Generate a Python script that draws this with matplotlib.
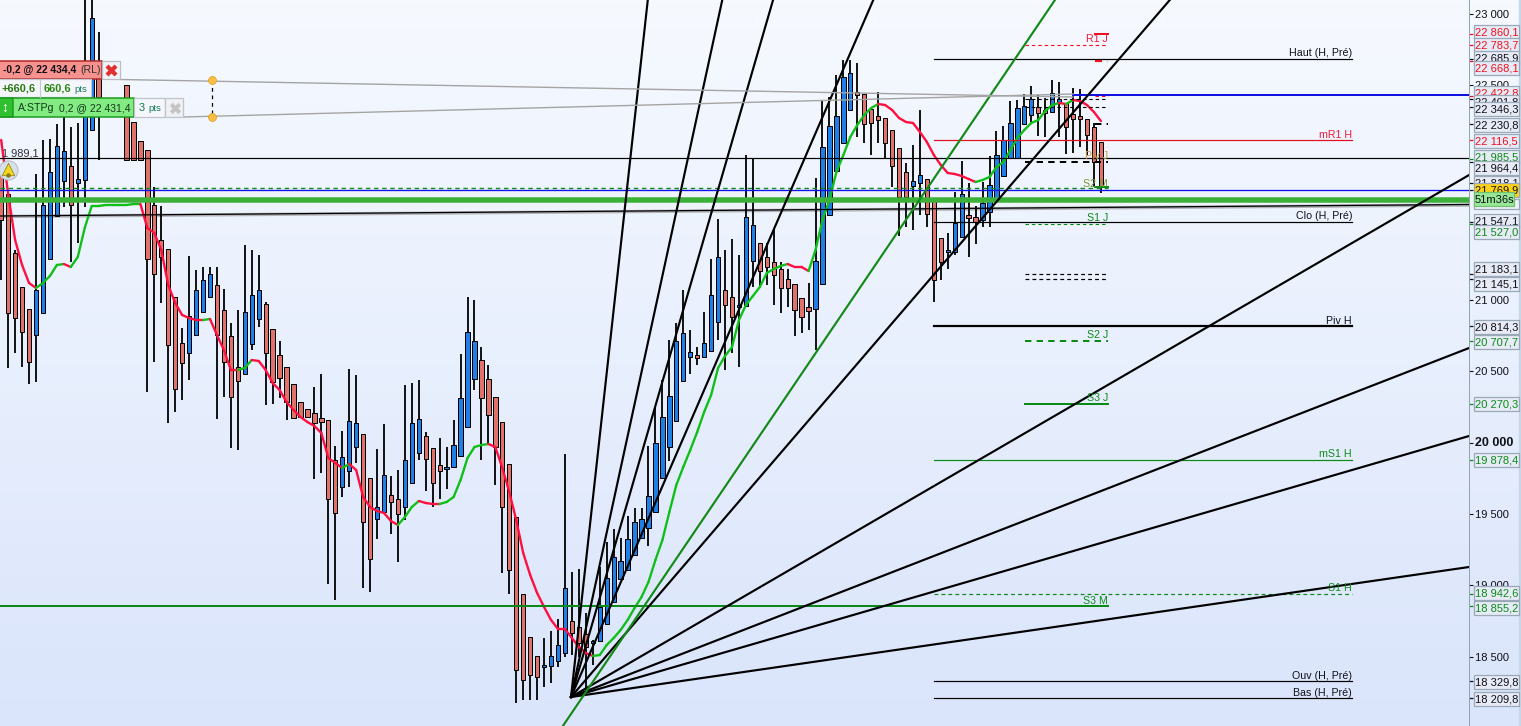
import numpy as np
import matplotlib
matplotlib.use("Agg")
import matplotlib.pyplot as plt
from matplotlib.patches import Rectangle
from matplotlib.collections import LineCollection

plt.rcParams['font.family'] = ['Liberation Sans', 'DejaVu Sans']
n = float('nan')

opens = [21929,21740,21327,21089,20935,20753,20907,21285,21586,21831,21936,21817,21838,22188,22664,n,n,n,22503,22244,22111,22048,21663,21418,21355,21019,20697,20627,20753,20914,21019,21103,20928,20746,20529,20480,20690,20865,20970,20795,20613,20529,20410,20284,20235,20207,20172,20158,19878,19689,19801,19969,20060,19752,19465,19514,19633,19605,19549,19717,19927,20046,19962,19843,19815,19829,19906,20109,20445,20578,20445,20319,20144,19850,19479,18940,18639,18506,18429,18436,18471,18527,18751,18709,18660,18597,18611,18730,18884,19045,19108,19213,19332,19402,19514,19752,19969,20151,20431,20599,20613,20599,20641,20844,21068,21019,20949,20956,21271,21397,21299,21264,21215,21145,21110,21012,20949,20935,21110,21593,21901,22097,22328,22454,22440,22335,22286,22272,22188,22062,21894,21796,21817,21845,21712,21432,21334,21334,21439,21593,21579,21558,21614,21712,21866,21992,21992,22230,22293,22349,22328,22314,22377,22377,22300,22286,22265,22209,22104]
highs = [21929,21740,21348,21089,20935,21880,22118,22125,22230,22279,22209,22237,23100,23100,22874,n,n,n,22503,22244,22111,22048,21789,21656,21355,21019,20802,21306,21208,21229,21229,21229,21075,20837,20928,21383,21348,21313,20984,20795,20711,20529,20410,20284,20235,20389,20480,20158,19976,20081,20515,20473,20060,19752,19955,20130,19766,19808,20403,20417,20438,20074,19962,20032,19969,20158,20620,21019,20998,20669,20543,20319,20144,19850,19479,18940,18639,18506,18632,18681,18765,19920,19094,19115,18807,18618,19129,19304,19395,19332,19486,19542,19542,19976,20242,20438,20718,20837,21068,20788,20669,20914,21285,21565,21348,21425,21313,22013,21992,21397,21397,21495,21264,21215,21110,21012,21117,21852,22398,22419,22573,22678,22678,22657,22440,22335,22454,22272,22188,22062,21957,22083,22328,21845,21712,21432,21467,21754,21971,21817,21656,21824,22006,22181,22216,22391,22398,22440,22496,22433,22412,22538,22524,22377,22482,22475,22265,22237,22104]
lows = [21138,20522,20627,20529,20410,20424,20907,21285,21586,21649,21264,21397,21649,22188,21978,n,n,n,21978,21978,21978,20354,20564,20977,20137,20214,20298,20438,20753,20914,21019,20165,20319,19962,19948,20480,20648,20809,20263,20270,20312,20158,20165,20179,20179,19745,19787,19010,18898,19619,19689,19857,18982,18954,19325,19514,19360,19164,19458,19717,19878,19661,19549,19605,19675,19829,19906,20109,20368,19878,19997,19703,19087,18940,18177,18198,18198,18198,18289,18317,18429,18499,18513,18499,18233,18443,18611,18730,18884,19045,19108,19213,19332,19276,19514,19752,19871,20151,20431,20480,20543,20599,20641,20718,20508,20627,20529,20956,21089,21089,21103,20963,20907,20949,20746,20767,20788,20648,21110,21593,21901,22097,22328,22139,22097,22013,22097,21985,21789,21446,21509,21488,21593,21509,20984,21138,21215,21313,21439,21299,21390,21509,21509,21712,21866,21992,21992,22230,22230,22146,22139,22314,22139,22020,22027,22069,22013,21789,21747]
closes = [21558,20907,20872,20774,20564,21068,21663,21894,22076,22041,21663,21845,22293,22972,22419,n,n,n,21978,21978,21978,21285,21180,21299,20683,20375,20557,20886,21068,21138,21180,20753,20564,20319,20431,20914,21033,21068,20627,20424,20452,20284,20172,20179,20179,20137,20144,19605,19507,19899,20151,20137,19444,19185,19549,19773,19584,19500,19878,20137,20165,19885,19717,19801,19829,19983,20312,20774,20711,20312,20193,19969,19549,19108,18408,18338,18373,18359,18443,18506,18583,18982,18667,18597,18569,18611,18849,19052,19199,19171,19325,19444,19465,19626,19997,20179,20326,20711,20767,20634,20592,20697,21033,21299,20963,20879,20963,21579,21523,21201,21229,21173,21082,21082,20928,20879,20921,21271,22069,22216,22286,22559,22587,22433,22230,22237,22258,22097,21936,21719,21719,21831,21873,21600,21138,21264,21348,21537,21740,21572,21544,21677,21803,22013,22118,22237,22342,22356,22405,22307,22307,22447,22405,22209,22265,22265,22153,21964,21789]
indicator = [22118,21740,21418,21243,21117,21082,21117,21166,21243,21250,21229,21299,21502,21656,21656,21663,21663,21663,21663,21670,21670,21502,21467,21348,21103,20977,20893,20872,20858,20858,20865,20753,20648,20508,20508,20522,20578,20571,20508,20417,20368,20284,20228,20179,20144,20116,20067,19892,19857,19822,19850,19808,19619,19549,19521,19507,19451,19423,19479,19549,19591,19577,19570,19570,19584,19619,19738,19892,19969,19983,19990,19969,19822,19654,19458,19227,19073,18947,18849,18758,18695,18695,18632,18569,18527,18506,18513,18583,18632,18688,18758,18842,18919,19024,19178,19318,19514,19703,19829,19948,20074,20214,20333,20522,20606,20669,20858,20963,21026,21089,21187,21215,21236,21250,21229,21229,21201,21348,21558,21698,21894,22013,22139,22223,22293,22342,22370,22363,22328,22272,22244,22237,22174,22104,22013,21943,21887,21880,21866,21845,21824,21838,21859,21929,21964,22048,22132,22188,22237,22258,22321,22363,22377,22370,22398,22391,22363,22314,22251]

fan_anchor_index = 81.87
fan_anchor_price = 18219
fan_end_index = [92.9, 103.6, 110.9, 125.3, 167.9, 210.9, 210.9, 210.9, 210.9]
fan_end_price = [23098, 23098, 23098, 23098, 23098, 21873, 20662, 20046, 19129]
green_fan_index = [80.7, 151.4]
green_fan_price = [18016, 23098]

ytick_values = [23000, 22500, 21000, 20500, 20000, 19500, 19000, 18500]
ytick_labels = ['23 000', '22 500', '21 000', '20 500', '20 000', '19 500', '19 000', '18 500']

box_values = [22860.1, 22783.7, 22685.9, 22668.1, 22422.8, 22401.8, 22346.3, 22230.8, 22116.5, 21985.5, 21964.4, 21818.1, 21769.9, 21547.1, 21527.0, 21183.1, 21145.1, 20814.3, 20707.7, 20270.3, 19878.4, 18942.6, 18855.2, 18329.8, 18209.8]
box_labels = ['22 860,1', '22 783,7', '22 685,9', '22 668,1', '22 422,8', '22 401,8', '22 346,3', '22 230,8', '22 116,5', '21 985,5', '21 964,4', '21 818,1', '21 769,9', '21 547,1', '21 527,0', '21 183,1', '21 145,1', '20 814,3', '20 707,7', '20 270,3', '19 878,4', '18 942,6', '18 855,2', '18 329,8', '18 209,8']
box_centres = [32, 45, 58, 68, 93, 102, 109, 124.5, 141, 157, 168, 183, 190, 221, 232, 269, 284, 327, 341.5, 404, 459.7, 593, 608, 682, 698.5]
R, K, G = '#f01020', '#101018', '#0c8a18'
box_colors = [R, R, K, R, R, K, K, K, R, G, K, K, K, K, G, K, K, K, G, G, G, G, G, K, K]

W, H = 1521, 726
AX_R = 1469
X0, DX = 1.2, 6.96
def to_index(px):
    return (px - X0) / DX
def to_price(py):
    return 23098 - 7 * py

fig = plt.figure(figsize=(W / 100, H / 100), dpi=100)

# background gradient
bg = fig.add_axes([0, 0, 1, 1], zorder=0)
bg.set_axis_off()
grad = np.linspace(0, 1, 256)[:, None, None]
top = np.array([0.965, 0.978, 1.0])
bot = np.array([0.855, 0.897, 0.985])
bg.imshow(top + (bot - top) * grad, aspect='auto', extent=(0, 1, 0, 1), interpolation='bilinear')

ax = fig.add_axes([0, 0, AX_R / W, 1], zorder=1)
ax.patch.set_alpha(0)
ax.set_xlim(to_index(0), to_index(AX_R))
ax.set_ylim(to_price(H), to_price(0))
ax.set_axis_off()

idx = np.arange(len(opens))
o, h, l, c = map(np.array, (opens, highs, lows, closes))
valid = ~np.isnan(o)

# long levels beneath the candles
ax.plot(ax.get_xlim(), [to_price(216.5), to_price(205)], color='#808080', lw=2.4, alpha=0.55, zorder=1)

ax.vlines(idx[valid], l[valid], h[valid], color='black', lw=1.3, zorder=2)
up = valid & (c >= o)
dn = valid & (c < o)
ax.bar(idx[up], (c - o)[up], bottom=o[up], width=0.62, color='#1f7fe6', edgecolor='black', lw=0.72, zorder=3)
ax.bar(idx[dn], (c - o)[dn], bottom=o[dn], width=0.62, color='#e0716b', edgecolor='black', lw=0.72, zorder=3)

# indicator, coloured by direction
ind = np.array(indicator)
segs, cols = [], []
last = '#ff1040'
for i in range(len(ind) - 1):
    if ind[i + 1] > ind[i]:
        last = '#10c018'
    elif ind[i + 1] < ind[i]:
        last = '#ff1040'
    segs.append([(idx[i], ind[i]), (idx[i + 1], ind[i + 1])])
    cols.append(last)
ax.add_collection(LineCollection(segs, colors=cols, linewidths=1.7, zorder=4, capstyle='round'))

# levels: (price, x from, x to, colour, width px, dash)
def level(price, x0, x1, color, lw, dashed=False, z=5):
    ax.plot([to_index(x0), to_index(x1)], [price, price], color=color, lw=lw * 0.72,
            ls=(0, (3.2, 2.6)) if dashed else '-', zorder=z)

level(21989.1, 0, AX_R, 'black', 1.2)
level(21785, 0, 1108, '#0c8a18', 1.4, True)
level(21769.9, 0, AX_R, '#1010f0', 1.3)
level(21698, 0, AX_R, '#3cb038', 5.5)
level(22431.4, 1073, AX_R, '#0c8a18', 1.5)
level(22434.4, 1073, AX_R, '#1010e0', 2)
level(22685.9, 934, 1352, 'black', 1.2)
level(22116.5, 934, 1352, '#e01020', 1.2)
level(21547.1, 934, 1352, 'black', 1.2)
level(20814.3, 934, 1352, 'black', 2.2)
level(19878.4, 934, 1352, '#0c8a18', 1.2)
level(18942.6, 934, 1352, '#0c8a18', 1.2, True)
level(18329.8, 934, 1352, 'black', 1.2)
level(18209.8, 934, 1352, 'black', 1.2)
level(18855.2, 0, 1108, '#0c8a18', 2)
level(21527.0, 1025, 1108, '#0c8a18', 1.1, True)
level(20707.7, 1025, 1108, '#0c8a18', 2, True)
level(20270.3, 1025, 1108, '#0c8a18', 2)
level(22783.7, 1025, 1108, '#f01020', 1.1, True)
level(22860.1, 1095, 1108, '#f01020', 2)
level(22668.1, 1095, 1108, '#f01020', 2.2, True)
level(22422.8, 1095, 1108, '#f01020', 1.1, True)
level(22401.8, 1025, 1108, 'black', 1.1, True)
level(22346.3, 1025, 1108, 'black', 1.1, True)
level(22230.8, 1095, 1108, 'black', 2, True)
level(21964.4, 1025, 1108, 'black', 2, True)
level(21789, 1095, 1108, '#0c8a18', 2)
level(21183.1, 1025, 1108, 'black', 1.2, True)
level(21145.1, 1025, 1108, 'black', 1.2, True)
ax.plot(ax.get_xlim(), [to_price(216), to_price(204.5)], color='black', lw=0.9, zorder=5)

# fan
for ei, ep in zip(fan_end_index, fan_end_price):
    ax.plot([fan_anchor_index, ei], [fan_anchor_price, ep], color='black', lw=1.55, zorder=6)
ax.plot(green_fan_index, green_fan_price, color='#138a18', lw=1.55, zorder=6)

# order guide lines
ax.plot([to_index(120), to_index(1073)], [to_price(79.5), to_price(97)], color='#a4a4a4', lw=1.0, zorder=6)
ax.plot([to_index(183), to_index(1073)], [to_price(117), to_price(94)], color='#a4a4a4', lw=1.0, zorder=6)

# price axis strip
axr = fig.add_axes([AX_R / W, 0, (W - AX_R) / W, 1], zorder=2)
axr.patch.set_alpha(0)
axr.set_xlim(0, W - AX_R)
axr.set_ylim(to_price(H), to_price(0))
axr.set_axis_off()
axr.hlines(ytick_values, 0, 4, color=K, lw=0.8)
axr.hlines(box_values, 0, 4, colors=box_colors, lw=0.9)
axr.axvline(0, color='#8ea2b0', lw=1.4)
axr.axvspan(50, 52, color='#c5d8ea')

# overlay in pixels for widgets and boxed labels
ov = fig.add_axes([0, 0, 1, 1], zorder=3)
ov.patch.set_alpha(0)
ov.set_xlim(0, W)
ov.set_ylim(H, 0)
ov.set_axis_off()

def rect(x0, y0, x1, y1, fc, ec, lw=0.9, z=3):
    ov.add_patch(Rectangle((x0, y0), x1 - x0, y1 - y0, fc=fc, ec=ec, lw=lw, zorder=z))
def txt(x, y, s, color=K, size=8.0, weight='normal', ha='left', z=4):
    ov.text(x, y + 0.8, s, color=color, fontsize=size, fontweight=weight, ha=ha, va='center', zorder=z)

# plain axis labels
for v, s in zip(ytick_values, ytick_labels):
    bold = v == 20000
    ov.text(1475, (23098 - v) / 7 + 0.8, s, color=K, fontsize=9 if bold else 8.0,
            fontweight='bold' if bold else 'normal', va='center', zorder=3)

z = 4
for s, cy, col in zip(box_labels, box_centres, box_colors):
    face = '#ffd21a' if s == '21 769,9' else '#e6ebf6'
    rect(1473.5, cy - 7, 1518.5, cy + 7, face, '#9aa8b8', z=z)
    txt(1475, cy, s, col, z=z + 0.5)
    z += 1
    if s == '21 769,9':
        rect(1473.5, 199, 1518.5, 209, '#eef2fa', '#9aa8b8', z=z)
        z += 1
        rect(1473.5, 192, 1514, 206, '#96e896', '#70c070', z=z)
        txt(1475, 199, '51m36s', K, z=z + 0.5)
        z += 1

# level labels
for x, y, s, col in [
    (1352, 52, 'Haut (H, Pré)', K), (1352, 134, 'mR1 H', '#f01838'), (1352, 215.5, 'Clo (H, Pré)', K),
    (1352, 320, 'Piv H', K), (1352, 453, 'mS1 H', G), (1352, 587.5, 'S1 H', G),
    (1352, 675.5, 'Ouv (H, Pré)', K), (1352, 692.5, 'Bas (H, Pré)', K),
    (1108, 600, 'S3 M', G), (1108, 397.5, 'S3 J', G), (1108, 334.5, 'S2 J', G), (1108, 217.5, 'S1 J', G),
    (1108, 183.5, 'S2 M', '#7a9a30'), (1108, 155, 'Piv J', '#c89a40'), (1108, 38, 'R1 J', '#f01838')]:
    txt(x, y, s, col, size=7.7, ha='right')

# order tags
rect(-2, 61, 102, 78.5, '#f8928e', '#b02828', 1.1)
txt(3, 69.5, '-0,2 @ 22 434,4', K, 7.4, 'bold')
txt(80, 69.5, '(RL)', '#303030', 7.6)
rect(102, 61, 120, 78.5, '#f2f3f6', '#b8bcc4')
ov.scatter([111], [70], marker='X', s=75, color='#e03030', linewidths=0, zorder=4)

rect(-2, 79, 91, 97, '#f4f6fc', '#c4c8d0')
ov.plot([39.5, 39.5], [79, 97], color='#c4c8d0', lw=0.8, zorder=4)
txt(2, 88, '+660,6', '#2a7a10', 7.9, 'bold')
txt(44, 88, '660,6', '#2a8a10', 7.9, 'bold')
txt(74, 89, 'pts', '#1a7a60', 6.8)

rect(-2, 97.5, 134, 117, '#82ec82', '#1f9a1f', 1.1)
rect(-2, 97.5, 13, 117, '#2fc02f', '#1f9a1f', 1.1)
txt(1, 106.5, '↕', 'white', 10, 'bold')
txt(18, 107.5, 'A:STPg', '#14381a', 7.6)
txt(59, 107.5, '0,2 @ 22 431,4', '#14381a', 7.5)
rect(134, 97.5, 165, 117, '#f4f6fb', '#c0c4cc')
txt(139, 107.5, '3', '#107a50', 7.9)
txt(148, 107.5, 'pts', '#107a50', 6.8)
rect(165, 97.5, 183, 117, '#eff0f3', '#c0c4cc')
ov.scatter([174.5], [107.5], marker='X', s=65, color='#c4c4c4', linewidths=0, zorder=4)

ov.plot([212, 212], [79.5, 116.5], color='black', lw=0.9, ls=(0, (3, 3)), zorder=4)
ov.scatter([212, 212], [79.5, 116.5], s=32, color='#fbc040', edgecolors='#e0a030', linewidths=0.6, zorder=5)

txt(1.5, 152.5, '1 989,1', '#303038', 7.9)
ov.scatter([7.5], [170], s=190, color='#d7dfe8', edgecolors='#b0bcc8', linewidths=0.7, zorder=4)
ov.scatter([7.5], [169], marker='^', s=80, color='#f2d820', edgecolors='#8a7a10', linewidths=0.5, zorder=5)
ov.scatter([7.5], [175], marker='o', s=5, color='#8a7a10', zorder=5)

fig.savefig('out.png', dpi=100)
